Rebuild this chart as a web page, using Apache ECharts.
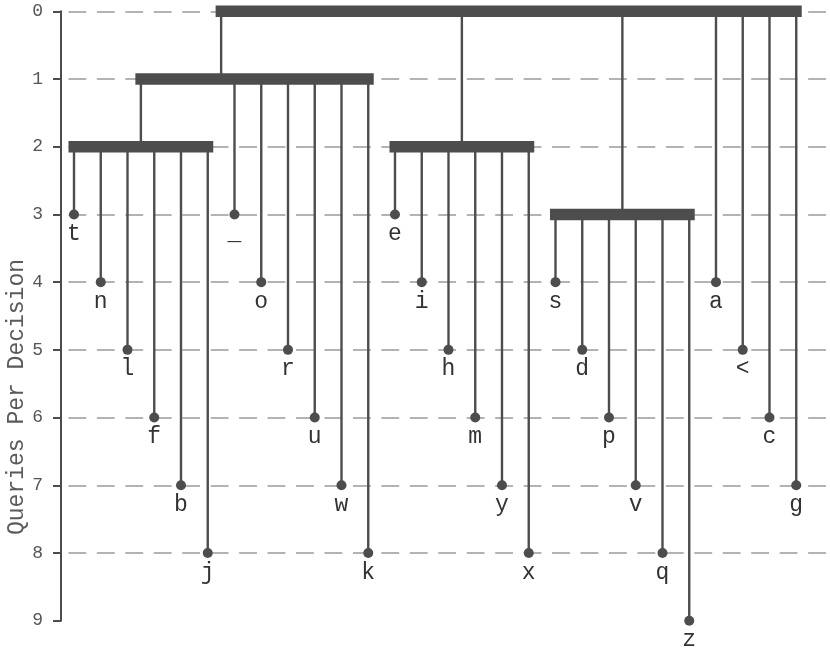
<!DOCTYPE html>
<html>
<head>
<meta charset="utf-8">
<title>Queries Per Decision</title>
<script src="https://cdn.jsdelivr.net/npm/echarts@6/dist/echarts.min.js"></script>
<style>
  html, body { margin: 0; padding: 0; background: #fff; }
  #chart { width: 830px; height: 649px; }
</style>
</head>
<body>
<div id="chart"></div>
<script>
// leaves, left to right, and how many queries each one needs
const leafLabels = ['t', 'n', 'l', 'f', 'b', 'j', '_', 'o', 'r', 'u', 'w', 'k',
  'e', 'i', 'h', 'm', 'y', 'x', 's', 'd', 'p', 'v', 'q', 'z', 'a', '<', 'c', 'g']
const leafDepths = [3, 4, 5, 6, 7, 8, 3, 4, 5, 6, 7, 8,
  3, 4, 5, 6, 7, 8, 4, 5, 6, 7, 8, 9, 4, 5, 6, 7]

// decision nodes (the thick bars) and what hangs under each
const nodeNames = ['root', 'n1', 'n2a', 'n2b', 'n3']
const nodeDepths = [0, 1, 2, 2, 3]
const nodeChildren = [
  ['n1', 'n2b', 'n3', 'a', '<', 'c', 'g'],
  ['n2a', '_', 'o', 'r', 'u', 'w', 'k'],
  ['t', 'n', 'l', 'f', 'b', 'j'],
  ['e', 'i', 'h', 'm', 'y', 'x'],
  ['s', 'd', 'p', 'v', 'q', 'z']
]
const yTicks = [0, 1, 2, 3, 4, 5, 6, 7, 8, 9]

const ink = '#4d4d4d'
const mono = "'Liberation Mono', 'DejaVu Sans Mono', monospace"

// leaves of a subtree, as positions along x
function leavesOf(name) {
  const k = nodeNames.indexOf(name)
  if (k < 0) return [leafLabels.indexOf(name)]
  return nodeChildren[k].reduce((acc, c) => acc.concat(leavesOf(c)), [])
}
function xOf(name) {
  const ls = leavesOf(name)
  return ls.reduce((s, v) => s + v, 0) / ls.length
}
function depthOf(name) {
  const k = nodeNames.indexOf(name)
  return k < 0 ? leafDepths[leafLabels.indexOf(name)] : nodeDepths[k]
}

const stems = []
const bars = []
nodeNames.forEach((name, k) => {
  const xs = nodeChildren[k].map(xOf)
  nodeChildren[k].forEach((c, j) => {
    stems.push([xs[j], nodeDepths[k], depthOf(c)])
  })
  bars.push([Math.min(...xs), Math.max(...xs), nodeDepths[k]])
})

const leaves = leafLabels.map((l, i) => ({ name: l, value: [i, leafDepths[i]] }))

// no grid line on the last tick
const gridColors = yTicks.map((t, i) => (i === yTicks.length - 1 ? 'rgba(0,0,0,0)' : '#b3b3b3'))

const chart = echarts.init(document.getElementById('chart'))
chart.setOption({
  animation: false,
  grid: { left: 61, right: 3, top: 11.3, bottom: 28.3, outerBoundsMode: 'none' },
  xAxis: {
    type: 'value',
    min: -0.486,
    max: 28.15,
    show: false
  },
  yAxis: {
    type: 'value',
    inverse: true,
    min: 0,
    max: 9,
    interval: 1,
    name: 'Queries Per Decision',
    nameLocation: 'middle',
    nameGap: 33,
    nameMoveOverlap: false,
    nameTextStyle: { fontFamily: mono, fontSize: 23, color: '#5a5a5a', padding: [0, 162, 0, 0] },
    axisLine: { show: true, onZero: false, lineStyle: { color: ink, width: 2 } },
    axisTick: { show: true, inside: false, length: 8, lineStyle: { color: ink, width: 2 } },
    axisLabel: { fontFamily: mono, fontSize: 18, color: '#555', margin: 18 },
    splitLine: {
      show: true,
      lineStyle: { color: gridColors, width: 2, type: [17.8, 10.65], dashOffset: 21 }
    }
  },
  series: [
    {
      type: 'custom',
      data: stems,
      encode: { x: 0, y: [1, 2] },
      clip: false,
      renderItem: (params, api) => {
        const p1 = api.coord([api.value(0), api.value(1)])
        const p2 = api.coord([api.value(0), api.value(2)])
        return {
          type: 'line',
          shape: { x1: p1[0], y1: p1[1], x2: p2[0], y2: p2[1] },
          style: { stroke: ink, lineWidth: 2.4 }
        }
      }
    },
    {
      type: 'custom',
      data: bars,
      encode: { x: [0, 1], y: 2 },
      clip: false,
      renderItem: (params, api) => {
        const a = api.coord([api.value(0), api.value(2)])
        const b = api.coord([api.value(1), api.value(2)])
        return {
          type: 'rect',
          shape: { x: a[0] - 5.5, y: a[1] - 5.8, width: b[0] - a[0] + 11, height: 11.6 },
          style: { fill: ink }
        }
      }
    },
    {
      type: 'scatter',
      data: leaves,
      symbolSize: 10,
      clip: false,
      itemStyle: { color: ink, opacity: 1 },
      label: {
        show: true,
        position: 'bottom',
        distance: 3,
        formatter: '{b}',
        fontFamily: mono,
        fontSize: 23,
        color: '#333'
      }
    }
  ]
})
</script>
</body>
</html>
